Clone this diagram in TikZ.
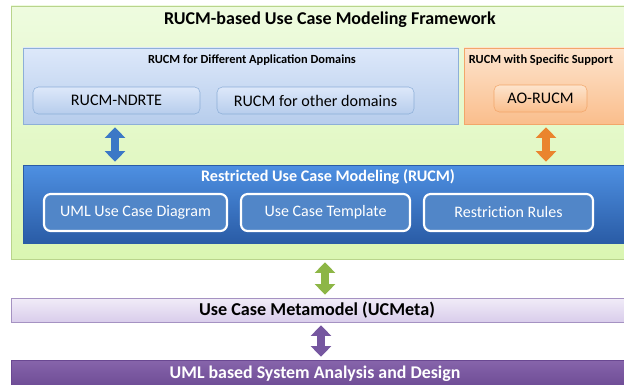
\documentclass[tikz,border=0pt]{standalone}
\usepackage{fontspec}
\setmainfont{Carlito}
\usetikzlibrary{arrows.meta}

\definecolor{frameTop}{HTML}{EEFBDF}
\definecolor{frameBot}{HTML}{DAF6B2}
\definecolor{frameLine}{HTML}{B9D48C}
\definecolor{domTop}{HTML}{DDE8FA}
\definecolor{domBot}{HTML}{B7CDEC}
\definecolor{domLine}{HTML}{8DAFD8}
\definecolor{oraTop}{HTML}{FDE4CD}
\definecolor{oraBot}{HTML}{FABE8C}
\definecolor{oraLine}{HTML}{F2A66A}
\definecolor{rucmTop}{HTML}{4E90E2}
\definecolor{rucmBot}{HTML}{2A5CA6}
\definecolor{rucmIn}{HTML}{5186C8}
\definecolor{metaTop}{HTML}{F1ECF8}
\definecolor{metaBot}{HTML}{D9CDEB}
\definecolor{metaLine}{HTML}{A592C2}
\definecolor{umlTop}{HTML}{8765AB}
\definecolor{umlBot}{HTML}{6A4892}
\definecolor{arrBlue}{HTML}{3B78C6}
\definecolor{arrOrange}{HTML}{EA842E}
\definecolor{arrGreen}{HTML}{8DB646}
\definecolor{arrPurple}{HTML}{7657A0}

\newcommand{\pxl}{0.75pt}

\begin{document}
\begin{tikzpicture}[x=0.75pt, y=-0.75pt,
    panel/.style={draw, shading=axis, inner sep=0pt},
    item/.style={draw, rounded corners=4pt, shading=axis, font=\fontsize{12.1}{14}\selectfont,
      minimum height=27*\pxl, inner sep=0pt},
    ruleitem/.style={draw=white, line width=1.6pt, rounded corners=5pt, fill=rucmIn,
      text=white, font=\fontsize{12}{14}\selectfont, minimum height=37*\pxl,
      minimum width=169*\pxl, inner sep=0pt},
    heading/.style={font=\bfseries\fontsize{9.3}{11}\selectfont},
    link/.style={line width=6pt, {Triangle[width=15pt,length=8pt]}-{Triangle[width=15pt,length=8pt]}, shorten <=3*\pxl, shorten >=3*\pxl}]
  \useasboundingbox (0,0) rectangle (624,385);

  % Rahmen
  \node[panel, draw=frameLine, top color=frameTop, bottom color=frameBot,
    minimum width=619*\pxl, minimum height=253*\pxl] (frame) at (320.5,132.5) {};
  \node[font=\bfseries\fontsize{13.5}{16}\selectfont] (frametitle) at (330,20) {RUCM-based Use Case Modeling Framework};

  % Anwendungsdomaenen
  \node[panel, draw=domLine, top color=domTop, bottom color=domBot,
    minimum width=435*\pxl, minimum height=76*\pxl] (domains) at (240.5,86) {};
  \node[heading] at (252,60) {RUCM for Different Application Domains};
  \node[item, draw=domLine, top color=domTop, bottom color=domBot, minimum width=167*\pxl] (ndrte) at (116.5,100.5) {RUCM-NDRTE};
  \node[item, draw=domLine, top color=domTop, bottom color=domBot, minimum width=197*\pxl] (other) at (315.5,100.5) {RUCM for other domains};

  % spezielle Unterstuetzung
  \node[panel, draw=oraLine, top color=oraTop, bottom color=oraBot,
    minimum width=163*\pxl, minimum height=76*\pxl] (support) at (545.5,86) {};
  \node[heading] at (541,60) {RUCM with Specific Support};
  \node[item, draw=oraLine, top color=oraTop, bottom color=oraBot, minimum width=93*\pxl] (aorucm) at (540.5,98.5) {AO-RUCM};

  % RUCM
  \node[panel, draw=rucmBot, top color=rucmTop, bottom color=rucmBot,
    minimum width=603*\pxl, minimum height=78*\pxl] (rucm) at (324.5,204) {};
  \node[font=\bfseries\fontsize{12.1}{14}\selectfont, text=white] at (328,177) {Restricted Use Case Modeling (RUCM)};
  \node[ruleitem, minimum width=183*\pxl] (ucdiagram) at (135.5,212.5) {UML Use Case Diagram};
  \node[ruleitem] (template) at (325.5,212.5) {Use Case Template};
  \node[ruleitem] (rules) at (508.5,212.5) {Restriction Rules};

  % Metamodell und UML
  \node[panel, draw=metaLine, top color=metaTop, bottom color=metaBot,
    minimum width=619*\pxl, minimum height=24*\pxl] (ucmeta) at (320.5,310) {};
  \node[font=\bfseries\fontsize{13.6}{16}\selectfont] at (317,310) {Use Case Metamodel (UCMeta)};
  \node[panel, draw=umlBot, top color=umlTop, bottom color=umlBot,
    minimum width=619*\pxl, minimum height=30*\pxl] (uml) at (320.5,375) {};
  \node[font=\bfseries\fontsize{13.4}{16}\selectfont, text=white] at (315,374) {UML based System Analysis and Design};

  % Pfeile
  \draw[link, arrBlue] (domains.south -| 115,0) -- (rucm.north -| 115,0);
  \draw[link, arrOrange] (support.south -| 546,0) -- (rucm.north -| 546,0);
  \draw[link, arrGreen] (frame.south -| 325,0) -- (ucmeta.north -| 325,0);
  \draw[link, arrPurple] (ucmeta.south -| 321,0) -- (uml.north -| 321,0);
\end{tikzpicture}
\end{document}
